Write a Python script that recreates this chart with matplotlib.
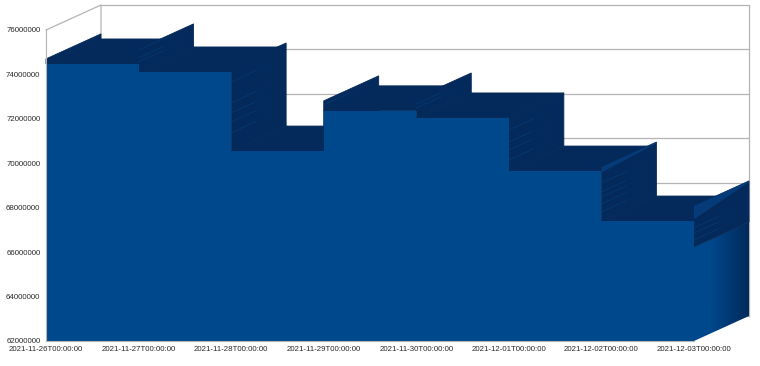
import numpy as np
import matplotlib
matplotlib.use('Agg')
import matplotlib.pyplot as plt
from matplotlib.colors import LinearSegmentedColormap
from matplotlib.patches import Polygon

plt.rcParams['font.family'] = ['Liberation Sans', 'DejaVu Sans']

dates = ['2021-11-26T00:00:00', '2021-11-27T00:00:00', '2021-11-28T00:00:00',
         '2021-11-29T00:00:00', '2021-11-30T00:00:00', '2021-12-01T00:00:00',
         '2021-12-02T00:00:00', '2021-12-03T00:00:00']
yticks = [62000000, 64000000, 66000000, 68000000,
          70000000, 72000000, 74000000, 76000000]

# step heights, in millions
values = [74.47, 74.11, 70.55, 72.36, 72.04, 69.65, 67.40]
# how high each side face starts at the front, one per step boundary
side_tops = [75.15, 74.29, 72.81, 72.94, 72.04, 69.83, 68.08]
left_top = 74.70
end_band = 66.23

# light streaks on the side faces
streaks = [[75.10, 74.74, 74.56],
           [73.66, 72.72, 72.27, 71.86, 71.37],
           [72.63],
           [72.67, 72.49],
           [71.50, 70.96, 70.60, 70.15],
           [69.11, 68.71, 68.48, 68.17, 67.81],
           [67.09, 66.86, 66.55]]

FRONT = '#00488c'
DARK = '#032a5a'
LIGHT = '#0a4c98'
GREY = '#b4b4b4'
dx = 0.594
dy = 1.126

fig = plt.figure(figsize=(7.6, 3.66), dpi=100)
ax = fig.add_axes([46/760, 25/366, 648/760, 311/366])

# back wall
for v in yticks:
    ax.plot([dx, 7+dx], [v/1e6+dy, v/1e6+dy], color=GREY, lw=0.9, zorder=1, clip_on=False)
ax.plot([0, dx, dx], [76, 76+dy, 76-1.6], color=GREY, lw=0.9, zorder=1, clip_on=False)
ax.plot([7+dx, 7+dx], [62+dy, 76+dy], color=GREY, lw=0.9, zorder=1, clip_on=False)

# top faces
for i, v in enumerate(values):
    ax.add_patch(Polygon([(i, v), (i+1, v), (i+1+dx, v+dy), (i+dx, v+dy)],
                         fc=DARK, ec=DARK, lw=0.6, zorder=2, clip_on=False))
ax.add_patch(Polygon([(0, values[0]), (0, left_top), (dx, left_top+dy), (dx, values[0]+dy)],
                     fc=DARK, ec=DARK, lw=0.6, zorder=2, clip_on=False))

# side faces
for i, top in enumerate(side_tops):
    b = i+1
    if i < 6:
        low = min(values[i], values[i+1])
    else:
        low = end_band
    ax.add_patch(Polygon([(b, low), (b, top), (b+dx, top+dy), (b+dx, low+dy)],
                         fc=DARK, ec=DARK, lw=0.6, zorder=3, clip_on=False))
    for s in streaks[i]:
        ax.plot([b, b+dx*0.45], [s, s+dy*0.45], color=LIGHT, lw=0.6, alpha=0.4,
                zorder=3.2, clip_on=False, solid_capstyle='butt')
        ax.plot([b+dx*0.45, b+dx*0.8], [s+dy*0.45, s+dy*0.8], color=LIGHT, lw=0.6, alpha=0.12,
                zorder=3.2, clip_on=False, solid_capstyle='butt')

# lighter wedge along the top of the last two side faces
for b, top, t in [(6, side_tops[5], 0.25), (7, side_tops[6], 0.6)]:
    ax.add_patch(Polygon([(b, top), (b+dx, top+dy), (b+dx, top+dy-0.05), (b, top-t)],
                         fc=LIGHT, ec='none', alpha=0.5, zorder=3.1, clip_on=False))

# end face under the band, fades to dark towards the back
cmap = LinearSegmentedColormap.from_list('side', [(0, FRONT), (0.3, FRONT), (1, DARK)])
grad = np.linspace(0, 1, 64).reshape(1, -1)
im = ax.imshow(grad, cmap=cmap, extent=(7, 7+dx, 62, end_band+dy), aspect='auto', zorder=2.9)
clip = Polygon([(7, 62), (7, end_band), (7+dx, end_band+dy), (7+dx, 62+dy)],
               transform=ax.transData)
im.set_clip_box(fig.bbox)
im.set_clip_path(clip)

# front
x = np.arange(8)
ax.fill_between(x, 62, values+values[-1:], step='post', color=FRONT, lw=0, zorder=4, clip_on=False)

ax.set_xlim(0, 7)
ax.set_ylim(62, 76)
ax.set_xticks(x)
ax.set_xticklabels(dates)
ax.set_yticks([v/1e6 for v in yticks])
ax.set_yticklabels([str(v) for v in yticks])
ax.tick_params(length=0, labelsize=5.7, labelcolor='#2a2a2a')
ax.tick_params(axis='x', pad=3.5)
ax.tick_params(axis='y', pad=4)
ax.patch.set_visible(False)
for k in ['top', 'right']:
    ax.spines[k].set_visible(False)
for k in ['left', 'bottom']:
    ax.spines[k].set_color(GREY)
    ax.spines[k].set_linewidth(0.8)
    ax.spines[k].set_zorder(5)

plt.savefig('out.png', dpi=100)
